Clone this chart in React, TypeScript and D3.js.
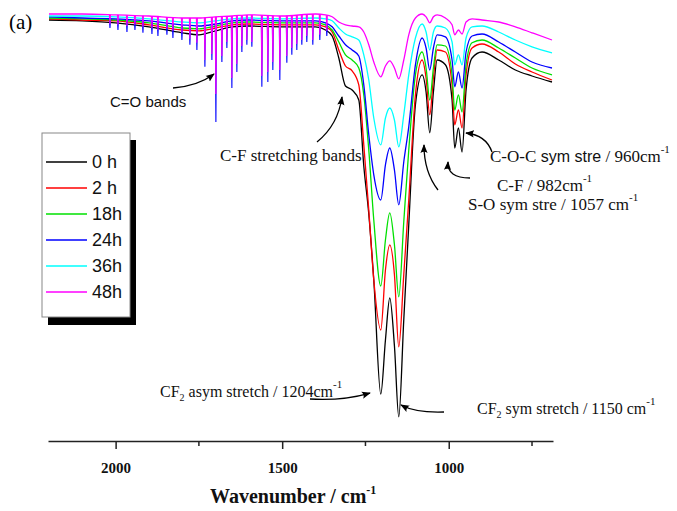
import React, { useRef, useEffect } from 'react';
import * as d3 from 'd3';

// wavenumber grid (cm-1) used for the smooth part of every spectrum
const wavenumbers = [
  2200, 2100, 2000, 1900, 1800, 1750, 1700, 1650, 1600, 1500, 1400, 1370, 1350, 1330, 1310,
  1290, 1270, 1255, 1240, 1225, 1204, 1190, 1177, 1163, 1150, 1135, 1120, 1100, 1080, 1068,
  1057, 1046, 1035, 1010, 990, 982, 971, 960, 948, 930, 900, 850, 800, 750, 690,
];

// transmittance (a.u.)
const t0h = [
  102.5, 102.3, 101.8, 100.8, 99.3, 98.8, 99.8, 100.8, 101, 100.8, 100.8, 100, 98.5, 93, 86,
  85, 82.5, 66, 54, 37.5, 9, 22.5, 33, 21, 3.3, 27.5, 51.3, 81.3, 88.8, 84.5,
  74.3, 84.5, 92.5, 91.3, 82.5, 70.5, 75.5, 69.5, 85, 93, 94.5, 92.5, 90, 88.5, 87,
];
const t2h = [
  102.8, 102.5, 102.3, 101.3, 100, 99.8, 100.5, 101.3, 101.5, 101.3, 101.3, 100.8, 99.5, 95, 91,
  89.8, 86.3, 71.3, 55, 37.5, 25, 40, 46.3, 38.8, 20.8, 38.8, 57.5, 83.8, 92.5, 88,
  78.8, 88, 95, 94.5, 86.3, 76.3, 80, 75.5, 88.8, 95.5, 96.5, 94.5, 91.5, 89.5, 87.5,
];
const t18h = [
  103, 102.8, 102.5, 101.8, 100.5, 100.3, 101, 101.8, 102, 101.8, 101.8, 101.3, 100, 97, 93.8,
  92.5, 90.5, 83.8, 70, 52.5, 36, 47.5, 54.3, 46.3, 33.3, 52, 70, 88.8, 94.5, 90.5,
  82.5, 90.5, 96.3, 96, 88.8, 80, 83.8, 79.5, 91.3, 96.8, 97.5, 95.5, 93, 90.5, 88.8,
];
const t24h = [
  103.3, 103, 102.8, 102.3, 101.3, 101, 101.5, 102.3, 102.5, 102.3, 102.3, 101.8, 100.8, 98.5, 96.3,
  95, 93.5, 86.3, 73.8, 63.8, 57.5, 66.3, 70.5, 65, 56.3, 67, 75.8, 91.3, 98, 95.5,
  90, 95.5, 98.8, 98.3, 92.5, 85.8, 89.5, 85.5, 94.5, 98.5, 99, 97, 94.5, 92, 90.5,
];
const t36h = [
  103.5, 103.5, 103.3, 102.8, 102, 101.8, 102.3, 102.8, 103, 102.8, 103, 102.8, 102.3, 100.5, 99,
  98.3, 97.5, 93.8, 87.5, 78, 71.3, 78, 80.5, 77.5, 70.8, 78.8, 88.8, 98, 101.5, 99.5,
  95, 99.5, 101, 100.5, 97, 91.3, 93.8, 91.3, 98, 100.8, 101, 99.5, 97.5, 95.8, 94.3,
];
const t48h = [
  104, 104, 103.8, 103.5, 103, 103, 103.3, 103.5, 103.8, 103.5, 104, 103.8, 103.3, 102, 101.3,
  101, 100.8, 99.5, 96.3, 92, 88.3, 91, 92.3, 90.5, 87.8, 92.5, 98.8, 103, 104, 103.3,
  101.8, 103.3, 103.8, 103, 101.3, 98.8, 100, 99, 102, 102.8, 102.5, 102, 100.8, 99.3, 97.5,
];

const seriesLabels = ['0 h', '2 h', '18h', '24h', '36h', '48h'];
const seriesColors = ['#000000', '#ff0000', '#00e000', '#0000ff', '#00ffff', '#ff00ff'];

// sharp absorption lines between 2050 and 1350 cm-1 (tips, same units)
const spikeWn = [
  2017, 1993, 1966, 1942, 1918, 1891, 1873, 1846, 1828, 1801, 1777, 1756, 1732, 1711, 1699, 1681, 1666,
  1651, 1636, 1621, 1606, 1591, 1561, 1543, 1528, 1507, 1486, 1471, 1456, 1441, 1426, 1408, 1387, 1366,
];
const spike24h = [
  100.5, 100, 99.5, 100, 99.3, 99, 98.5, 98.8, 98, 97.5, 96.3, 95, 90.8, 92.5, 77, 92, 95.5,
  85.5, 89.5, 94.5, 96.3, 95.8, 85.8, 87, 90, 87.5, 91.8, 93.8, 95, 96.3, 97, 96.3, 97.5, 98.5,
];
const spike48h = [
  101.5, 101.3, 101, 101.3, 100.8, 100.5, 100, 100.3, 99.8, 99.3, 97.8, 96.8, 92.5, 94, 84, 93.5, 97,
  88, 91.5, 96, 97.5, 97, 88.5, 89.5, 92, 90, 93.5, 95.5, 96.5, 97.5, 98.5, 97.5, 98.8, 99.8,
];

const majorTicks = [2000, 1500, 1000];
const minorTicks = [1750, 1250, 750];

const serif = '"Liberation Serif", "Times New Roman", serif';
const sans = '"Liberation Sans", Arial, sans-serif';

const App = () => {
  const svgRef = useRef<SVGSVGElement>(null);

  useEffect(() => {
    document.body.style.margin = '0';
    const width = 677;
    const height = 511;

    const svg = d3.select(svgRef.current);
    svg.selectAll('*').remove();
    svg.attr('width', width).attr('height', height);

    const x = d3.scaleLinear().domain([2203, 687]).range([48, 553]);
    const y = d3.scaleLinear().domain([0, 105]).range([430, 10]);

    svg.append('defs').append('marker')
      .attr('id', 'ah')
      .attr('viewBox', '0 0 10 10')
      .attr('refX', 9).attr('refY', 5)
      .attr('markerWidth', 9).attr('markerHeight', 9)
      .attr('markerUnits', 'userSpaceOnUse')
      .attr('orient', 'auto')
      .append('path')
      .attr('d', 'M0,1 L10,5 L0,9 Q3,5 0,1 Z')
      .attr('fill', '#000');

    const line = d3.line<[number, number]>()
      .x(d => x(d[0]))
      .y(d => y(d[1]))
      .curve(d3.curveMonotoneX);

    const allSeries = [t0h, t2h, t18h, t24h, t36h, t48h];
    const spikeSets: Record<number, number[]> = { 3: spike24h, 5: spike48h };

    allSeries.forEach((vals, i) => {
      const g = svg.append('g');
      g.append('path')
        .datum(wavenumbers.map((w, j) => [w, vals[j]] as [number, number]))
        .attr('d', line)
        .attr('fill', 'none')
        .attr('stroke', seriesColors[i])
        .attr('stroke-width', 1.3)
        .attr('stroke-linejoin', 'round');

      const tips = spikeSets[i];
      if (tips) {
        // baseline of this spectrum at each line position (piecewise scale)
        const base = d3.scaleLinear().domain(wavenumbers).range(vals);
        g.selectAll('.spike')
          .data(spikeWn.map((w, k) => [w, tips[k]]))
          .enter()
          .append('path')
          .attr('class', 'spike')
          .attr('d', d => d3.line()([
            [x(d[0] + 1.6), y(base(d[0]))],
            [x(d[0]), y(d[1])],
            [x(d[0] - 1.6), y(base(d[0]))],
          ]))
          .attr('fill', 'none')
          .attr('stroke', seriesColors[i])
          .attr('stroke-width', 1.1);
      }
    });

    // x axis
    const axisG = svg.append('g').attr('transform', 'translate(0,441)');
    axisG.call(
      d3.axisBottom(x)
        .tickValues(majorTicks)
        .tickSize(8)
        .tickSizeOuter(0)
        .tickPadding(13)
        .tickFormat(d3.format('d'))
    );
    axisG.select('.domain').attr('stroke', '#222').attr('stroke-width', 1.6);
    axisG.selectAll('.tick line').attr('stroke', '#222').attr('stroke-width', 1.5);
    axisG.selectAll('.tick text')
      .attr('fill', '#111')
      .attr('font-family', serif)
      .attr('font-weight', 'bold')
      .attr('font-size', 15);
    axisG.selectAll('.minor')
      .data(minorTicks)
      .enter()
      .append('line')
      .attr('class', 'minor')
      .attr('x1', d => x(d)).attr('x2', d => x(d))
      .attr('y1', 0).attr('y2', 5)
      .attr('stroke', '#222')
      .attr('stroke-width', 1.5);

    const title = svg.append('text')
      .attr('x', 210).attr('y', 503)
      .attr('font-family', serif).attr('font-weight', 'bold').attr('font-size', 20)
      .attr('fill', '#111');
    title.append('tspan').text('Wavenumber / cm');
    title.append('tspan').attr('dy', -9).attr('font-size', 12).text('-1');

    svg.append('text')
      .attr('x', 9).attr('y', 29)
      .attr('font-family', serif).attr('font-size', 21)
      .text('(a)');

    // legend with drop shadow
    const leg = svg.append('g');
    leg.append('rect').attr('x', 48).attr('y', 140).attr('width', 88).attr('height', 185).attr('fill', '#000');
    leg.append('rect').attr('x', 42).attr('y', 133).attr('width', 88).attr('height', 184)
      .attr('fill', '#fff').attr('stroke', '#888').attr('stroke-width', 1);
    seriesLabels.forEach((lab, i) => {
      const ly = 162 + i * 26;
      leg.append('line').attr('x1', 46).attr('x2', 87).attr('y1', ly).attr('y2', ly)
        .attr('stroke', seriesColors[i]).attr('stroke-width', 1.3);
      leg.append('text').attr('x', 92).attr('y', ly).attr('dy', '0.36em')
        .attr('font-family', sans).attr('font-size', 18).attr('fill', '#111')
        .text(lab);
    });

    // annotation arrows
    const arrows = [
      'M173,88 Q198,86 214,74',
      'M317,142 Q338,125 342,97',
      'M438,190 Q424,172 424,145',
      'M470,178 Q447,178 448,162',
      'M492,152 Q486,135 466,133',
      'M310,399 Q342,401 370,393',
      'M444,412 Q416,413 401,405',
    ];
    svg.selectAll('.arrow')
      .data(arrows)
      .enter()
      .append('path')
      .attr('class', 'arrow')
      .attr('d', d => d)
      .attr('fill', 'none')
      .attr('stroke', '#000')
      .attr('stroke-width', 1.3)
      .attr('marker-end', 'url(#ah)');

    svg.append('text').attr('x', 110).attr('y', 107)
      .attr('font-family', sans).attr('font-size', 15).attr('fill', '#111')
      .text('C=O bands');

    svg.append('text').attr('x', 220).attr('y', 161)
      .attr('font-family', serif).attr('font-size', 17).attr('fill', '#111')
      .text('C-F stretching bands');

    const coc = svg.append('text').attr('x', 490).attr('y', 162)
      .attr('font-family', serif).attr('font-size', 17).attr('fill', '#111');
    coc.append('tspan').text('C-O-C');
    coc.append('tspan').attr('font-family', sans).attr('font-size', 16).text(' sym stre');
    coc.append('tspan').text(' / 960cm');
    coc.append('tspan').attr('dy', -9).attr('font-size', 11).text('-1');

    const cf = svg.append('text').attr('x', 497).attr('y', 191)
      .attr('font-family', serif).attr('font-size', 17).attr('fill', '#111');
    cf.append('tspan').text('C-F / 982cm');
    cf.append('tspan').attr('dy', -9).attr('font-size', 11).text('-1');

    const so = svg.append('text').attr('x', 468).attr('y', 210)
      .attr('font-family', serif).attr('font-size', 17).attr('fill', '#111');
    so.append('tspan').text('S-O sym stre / 1057 cm');
    so.append('tspan').attr('dy', -9).attr('font-size', 11).text('-1');

    const asym = svg.append('text').attr('x', 160).attr('y', 397)
      .attr('font-family', serif).attr('font-size', 16).attr('fill', '#111');
    asym.append('tspan').text('CF');
    asym.append('tspan').attr('dy', 4).attr('font-size', 10).text('2');
    asym.append('tspan').attr('dy', -4).text(' asym stretch / 1204cm');
    asym.append('tspan').attr('dy', -9).attr('font-size', 11).text('-1');

    const sym = svg.append('text').attr('x', 477).attr('y', 414)
      .attr('font-family', serif).attr('font-size', 16).attr('fill', '#111');
    sym.append('tspan').text('CF');
    sym.append('tspan').attr('dy', 4).attr('font-size', 10).text('2');
    sym.append('tspan').attr('dy', -4).text(' sym stretch / 1150 cm');
    sym.append('tspan').attr('dy', -9).attr('font-size', 11).text('-1');
  }, []);

  return <svg ref={svgRef} style={{ display: 'block', background: '#fff' }} />;
};

export default App;
